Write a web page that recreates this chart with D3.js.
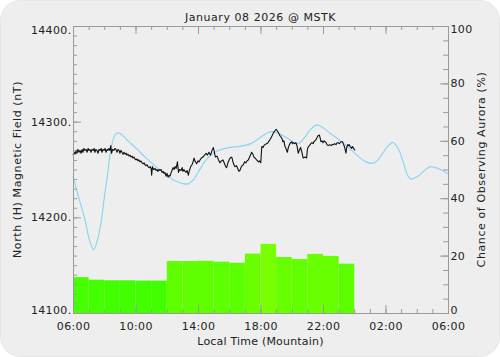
<!DOCTYPE html>
<html>
<head>
<meta charset="utf-8">
<script src="https://cdn.jsdelivr.net/npm/d3@7"></script>
<style>
  html, body { margin: 0; padding: 0; background: #ffffff; }
  svg { display: block; }
  text { font-family: "DejaVu Sans", sans-serif; }
</style>
</head>
<body>
<div id="chart"></div>
<script>
// ---------------- DATA ----------------
const titleText = "January 08 2026 @ MSTK";
const xTitle = "Local Time (Mountain)";
const yLeftTitle = "North (H) Magnetic Field (nT)";
const yRightTitle = "Chance of Observing Aurora (%)";

// x tick labels (every 4 hours from 06:00 local)
const xTickLabels = ["06:00", "10:00", "14:00", "18:00", "22:00", "02:00", "06:00"];
const leftTicks = [14100, 14200, 14300, 14400];
const rightTicks = [0, 20, 40, 60, 80, 100];

// hourly aurora chance bars (local hour start)
const barHours = ["06", "07", "08", "09", "10", "11", "12", "13", "14", "15", "16", "17", "18", "19", "20", "21", "22", "23"];
const barValues = [12.5, 11.6, 11.4, 11.4, 11.3, 11.3, 18.1, 18.1, 18.2, 17.9, 17.5, 20.7, 24.1, 19.5, 18.8, 20.6, 19.9, 17.2];

// typical / model curve (minutes after 06:00, nT)
const modelMinutes = [0, 19, 46, 61, 79, 96, 108, 119, 131, 142, 154, 165, 175, 188, 211, 245, 276, 315, 353, 392, 419, 442, 465, 488, 511, 534, 564, 603, 641, 680, 707, 730, 756, 781, 806, 833, 852, 871, 891, 914, 935, 956, 987, 1037, 1089, 1125, 1152, 1171, 1190, 1210, 1227, 1240, 1256, 1271, 1286, 1298, 1313, 1332, 1352, 1371, 1390, 1409, 1440];
const modelNT = [14243, 14223.5, 14197.4, 14178.6, 14166.1, 14178.6, 14195.3, 14218.3, 14241.3, 14265.3, 14281.0, 14287.2, 14288.3, 14286.2, 14279.9, 14271.6, 14263.2, 14253.8, 14245.5, 14238.2, 14235.5, 14235.0, 14240.2, 14250.7, 14260.1, 14266.3, 14270.5, 14273.1, 14274.2, 14276.8, 14281.0, 14285.6, 14289.3, 14288.8, 14285.6, 14281.0, 14277.8, 14277.8, 14284.1, 14292.4, 14296.6, 14294.5, 14287.9, 14277.8, 14265.3, 14258.0, 14256.6, 14260.1, 14267.4, 14274.7, 14278.4, 14275.7, 14267.4, 14254.9, 14243.4, 14239.9, 14241.3, 14244.4, 14249.6, 14252.8, 14252.3, 14250.2, 14245.5];

// measured H component (minutes after 06:00, nT)
const obsMinutes = [0, 4, 8, 12, 15, 19, 23, 27, 31, 35, 38, 42, 46, 50, 54, 58, 61, 65, 69, 73, 77, 81, 84, 88, 92, 96, 100, 104, 108, 111, 115, 119, 123, 127, 131, 134, 138, 142, 145, 148, 152, 157, 161, 165, 169, 173, 177, 180, 184, 188, 192, 196, 200, 204, 207, 211, 215, 219, 223, 227, 230, 234, 238, 242, 246, 250, 253, 257, 261, 265, 269, 273, 276, 280, 284, 288, 292, 296, 300, 302, 305, 309, 315, 319, 323, 326, 330, 334, 338, 342, 346, 349, 353, 357, 361, 365, 369, 372, 376, 380, 384, 388, 392, 396, 401, 405, 409, 415, 419, 422, 426, 430, 434, 438, 443, 447, 452, 457, 461, 465, 468, 475, 480, 484, 488, 493, 499, 505, 511, 516, 522, 528, 534, 539, 543, 547, 553, 559, 564, 570, 576, 582, 586, 590, 595, 601, 607, 611, 614, 618, 622, 628, 634, 637, 641, 645, 649, 654, 659, 664, 668, 673, 680, 686, 691, 695, 699, 705, 712, 716, 721, 725, 730, 733, 737, 743, 749, 753, 756, 760, 764, 769, 774, 780, 783, 788, 793, 799, 803, 806, 810, 814, 818, 823, 827, 831, 835, 840, 843, 846, 851, 856, 860, 865, 870, 874, 879, 884, 891, 897, 900, 904, 908, 913, 917, 922, 925, 929, 935, 940, 946, 949, 952, 956, 960, 964, 968, 972, 975, 980, 985, 991, 995, 1000, 1004, 1010, 1014, 1018, 1023, 1029, 1035, 1038, 1042, 1045, 1048, 1051, 1055, 1058, 1061, 1064, 1068, 1070, 1073, 1076, 1080, 1083];
const obsNT = [14265, 14268, 14266, 14270, 14267, 14271, 14268, 14270, 14267, 14271, 14268, 14272, 14270, 14271, 14268, 14272, 14270, 14271, 14268, 14271, 14270, 14272, 14268, 14271, 14270, 14267, 14271, 14270, 14272, 14268, 14271, 14270, 14272, 14268, 14271, 14270, 14272, 14270, 14275, 14267, 14271, 14270, 14272, 14271, 14268, 14271, 14270, 14267, 14270, 14268, 14266, 14268, 14266, 14267, 14265, 14266, 14264, 14265, 14263, 14264, 14262, 14263, 14261, 14260, 14261, 14259, 14260, 14258, 14259, 14257, 14256, 14257, 14255, 14254, 14255, 14253, 14252, 14253, 14251, 14244, 14253, 14250, 14251, 14249, 14250, 14248, 14250, 14249, 14250, 14247, 14248, 14246, 14247, 14243, 14246, 14242, 14244, 14243, 14246, 14249, 14252, 14250, 14253, 14251, 14258, 14247, 14250, 14249, 14252, 14248, 14250, 14248, 14247, 14249, 14244, 14249, 14253, 14255, 14258, 14262, 14259, 14256, 14259, 14258, 14260, 14262, 14263, 14265, 14267, 14265, 14268, 14265, 14270, 14273, 14268, 14263, 14264, 14260, 14257, 14259, 14260, 14256, 14253, 14252, 14257, 14261, 14263, 14262, 14258, 14255, 14253, 14254, 14250, 14248, 14249, 14252, 14254, 14255, 14258, 14257, 14259, 14260, 14264, 14268, 14266, 14263, 14262, 14260, 14258, 14259, 14257, 14274, 14273, 14275, 14276, 14277, 14278, 14280, 14281, 14283, 14285, 14288, 14290, 14292, 14291, 14289, 14286, 14284, 14282, 14279, 14280, 14274, 14272, 14268, 14273, 14276, 14278, 14279, 14277, 14278, 14277, 14278, 14275, 14267, 14271, 14273, 14268, 14262, 14263, 14262, 14271, 14274, 14275, 14277, 14278, 14277, 14279, 14280, 14282, 14285, 14286, 14283, 14279, 14280, 14278, 14280, 14279, 14278, 14276, 14275, 14276, 14275, 14276, 14276, 14277, 14276, 14278, 14278, 14277, 14279, 14279, 14277, 14274, 14271, 14267, 14273, 14276, 14275, 14276, 14274, 14273, 14272, 14274, 14273, 14271, 14270];

// ---------------- LAYOUT ----------------
const W = 500, H = 357;
const plot = { left: 73, right: 448, top: 26, bottom: 313 };

const svg = d3.select("#chart").append("svg")
  .attr("width", W).attr("height", H);

svg.append("rect")
  .attr("x", 0.5).attr("y", 0.5).attr("width", W - 1).attr("height", H - 1)
  .attr("rx", 20).attr("ry", 20)
  .attr("fill", "#eeeeee").attr("stroke", "#e6e6e6");

const x = d3.scaleLinear().domain([0, 1440]).range([plot.left, plot.right]);
const yL = d3.scaleLinear().domain([14100, 14400]).range([plot.bottom, plot.top]);
const yR = d3.scaleLinear().domain([0, 100]).range([plot.bottom, plot.top]);

const barColor = d3.scaleLinear().domain([11, 24]).range(["#40ff00", "#78ff00"]);

// ---------------- BARS ----------------
const bars = barHours.map((h, i) => ({ start: i * 60, end: (i + 1) * 60, v: barValues[i] }));
svg.append("g").selectAll("rect").data(bars).join("rect")
  .attr("x", d => x(d.start))
  .attr("width", d => x(d.end) - x(d.start))
  .attr("y", d => yR(d.v))
  .attr("height", d => yR(0) - yR(d.v))
  .attr("fill", d => barColor(d.v));

// ---------------- LINES ----------------
const modelData = modelMinutes.map((m, i) => [m, modelNT[i]]);
svg.append("path")
  .datum(modelData)
  .attr("fill", "none")
  .attr("stroke", "#8ad6f0")
  .attr("stroke-width", 1.2)
  .attr("d", d3.line().x(d => x(d[0])).y(d => yL(d[1])).curve(d3.curveCatmullRom.alpha(0.5)));

const obsData = obsMinutes.map((m, i) => [m, obsNT[i]]);
svg.append("path")
  .datum(obsData)
  .attr("fill", "none")
  .attr("stroke", "#111111")
  .attr("stroke-width", 1.1)
  .attr("stroke-linejoin", "round")
  .attr("d", d3.line().x(d => x(d[0])).y(d => yL(d[1])));

// ---------------- AXES ----------------
const axisColor = "#9a9a9a";
const textColor = "#222222";
const fontSize = 11;

function styleAxis(g) {
  g.select(".domain").attr("stroke", axisColor);
  g.selectAll(".tick line").attr("stroke", axisColor);
  g.selectAll(".tick text").attr("fill", textColor)
    .attr("font-family", "DejaVu Sans").attr("font-size", fontSize)
    .attr("letter-spacing", 0.35);
  g.attr("font-family", null).attr("font-size", null);
}

const hourTicks = d3.range(0, 1441, 60);
const majorX = d3.range(0, 1441, 240);

// bottom axis
const gxMinor = svg.append("g").attr("transform", `translate(0,${plot.bottom})`)
  .call(d3.axisBottom(x).tickValues(hourTicks).tickSize(-4).tickFormat(""));
styleAxis(gxMinor);
const gx = svg.append("g").attr("transform", `translate(0,${plot.bottom})`)
  .call(d3.axisBottom(x).tickValues(majorX).tickSize(-8).tickPadding(9)
    .tickFormat((d, i) => xTickLabels[i]));
styleAxis(gx);

// top axis
const gtMinor = svg.append("g").attr("transform", `translate(0,${plot.top})`)
  .call(d3.axisTop(x).tickValues(hourTicks).tickSize(-4).tickFormat(""));
styleAxis(gtMinor);
const gt = svg.append("g").attr("transform", `translate(0,${plot.top})`)
  .call(d3.axisTop(x).tickValues(majorX).tickSize(-8).tickFormat(""));
styleAxis(gt);

// left axis
const gyLMinor = svg.append("g").attr("transform", `translate(${plot.left},0)`)
  .call(d3.axisLeft(yL).tickValues(d3.range(14100, 14401, 10)).tickSize(-4).tickFormat(""));
styleAxis(gyLMinor);
const gyL = svg.append("g").attr("transform", `translate(${plot.left},0)`)
  .call(d3.axisLeft(yL).tickValues(leftTicks).tickSize(-8).tickPadding(1.5)
    .tickFormat(d => d + "."));
styleAxis(gyL);
gyL.selectAll(".tick text").attr("dy", d => d === 14400 ? "0.72em" : d === 14100 ? "0.05em" : "0.32em");

// right axis
const gyRMinor = svg.append("g").attr("transform", `translate(${plot.right},0)`)
  .call(d3.axisRight(yR).tickValues(d3.range(0, 101, 5)).tickSize(-5).tickFormat(""));
styleAxis(gyRMinor);
const gyR = svg.append("g").attr("transform", `translate(${plot.right},0)`)
  .call(d3.axisRight(yR).tickValues(rightTicks).tickSize(-8).tickPadding(2.5));
styleAxis(gyR);
gyR.selectAll(".tick text").attr("dy", d => d === 100 ? "0.62em" : d === 0 ? "0.02em" : "0.32em");

// ---------------- TITLES ----------------
svg.append("text")
  .attr("x", (plot.left + plot.right) / 2).attr("y", 17)
  .attr("text-anchor", "middle").attr("dominant-baseline", "central")
  .attr("font-size", fontSize).attr("fill", textColor)
  .attr("letter-spacing", 0.55)
  .text(titleText);

svg.append("text")
  .attr("x", (plot.left + plot.right) / 2).attr("y", 341)
  .attr("text-anchor", "middle").attr("dominant-baseline", "central")
  .attr("font-size", fontSize).attr("fill", textColor)
  .attr("letter-spacing", 0.2)
  .text(xTitle);

svg.append("text")
  .attr("transform", `translate(17.5,${(plot.top + plot.bottom) / 2}) rotate(-90)`)
  .attr("text-anchor", "middle").attr("dominant-baseline", "central")
  .attr("font-size", fontSize).attr("fill", textColor)
  .attr("letter-spacing", 0.6)
  .text(yLeftTitle);

svg.append("text")
  .attr("transform", `translate(481.5,${(plot.top + plot.bottom) / 2}) rotate(-90)`)
  .attr("text-anchor", "middle").attr("dominant-baseline", "central")
  .attr("font-size", fontSize).attr("fill", textColor)
  .attr("letter-spacing", 0.6)
  .text(yRightTitle);
</script>
</body>
</html>
